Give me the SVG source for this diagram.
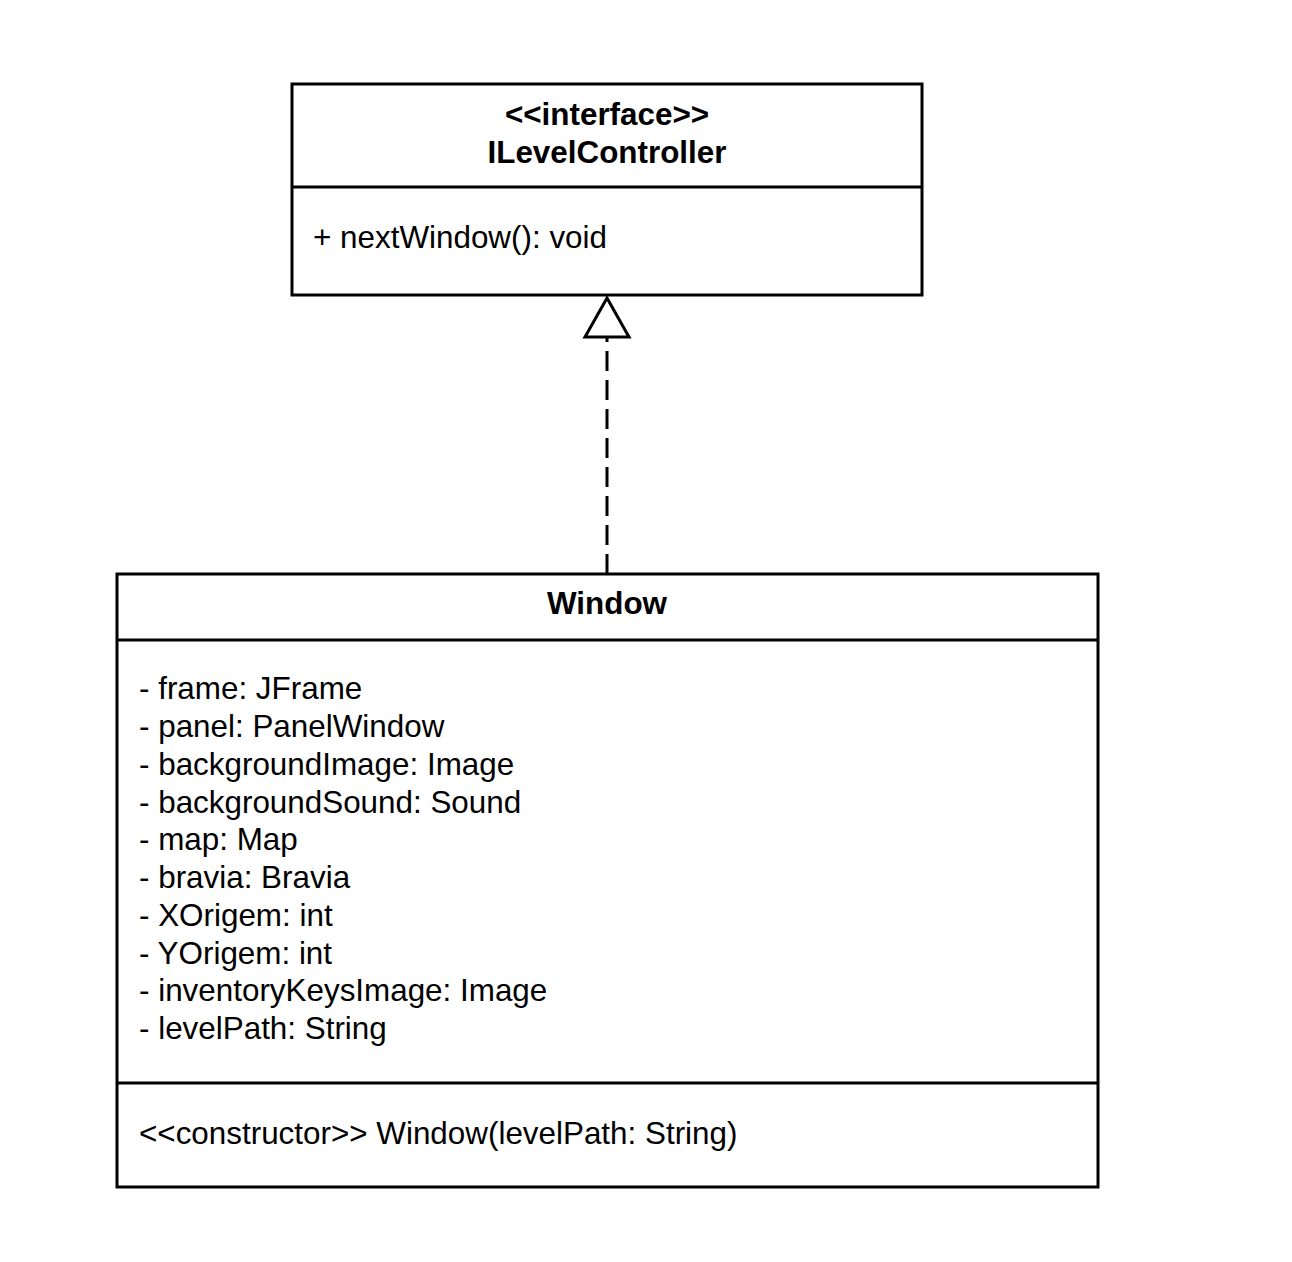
<svg xmlns="http://www.w3.org/2000/svg" width="1292" height="1262" viewBox="0 0 1292 1262">
<style>
.box{fill:#fff;stroke:#000;stroke-width:3}
.div{stroke:#000;stroke-width:3}
.t{font-family:"Liberation Sans",Arial,sans-serif;font-size:31.4px;fill:#000}
.b{font-weight:bold;text-anchor:middle}
.conn{fill:none;stroke:#000;stroke-width:3}
</style>
<rect width="1292" height="1262" fill="#fff"/>
<g id="ILevelController">
<rect class="box" x="292" y="84" width="630" height="211"/>
<line class="div" x1="292" y1="187" x2="922" y2="187"/>
<text class="t b" x="607" y="125">&lt;&lt;interface&gt;&gt;</text>
<text class="t b" x="607" y="163">ILevelController</text>
<text class="t" x="313" y="248">+ nextWindow(): void</text>
</g>
<g id="Window">
<rect class="box" x="117" y="574" width="981" height="613"/>
<line class="div" x1="117" y1="640" x2="1098" y2="640"/>
<line class="div" x1="117" y1="1083" x2="1098" y2="1083"/>
<text class="t b" x="607" y="614">Window</text>
<text class="t" x="139" y="699">- frame: JFrame</text>
<text class="t" x="139" y="737">- panel: PanelWindow</text>
<text class="t" x="139" y="775">- backgroundImage: Image</text>
<text class="t" x="139" y="813">- backgroundSound: Sound</text>
<text class="t" x="139" y="850">- map: Map</text>
<text class="t" x="139" y="888">- bravia: Bravia</text>
<text class="t" x="139" y="926">- XOrigem: int</text>
<text class="t" x="139" y="964">- YOrigem: int</text>
<text class="t" x="139" y="1001">- inventoryKeysImage: Image</text>
<text class="t" x="139" y="1039">- levelPath: String</text>
<text class="t" x="139" y="1144">&lt;&lt;constructor&gt;&gt; Window(levelPath: String)</text>
</g>
<g id="connectors">
<path class="conn" d="M607 574 L607 337" stroke-width="4" stroke-dasharray="20 9"/>
<polygon class="conn" points="607,298 629,337 585,337"/>
</g>
</svg>
